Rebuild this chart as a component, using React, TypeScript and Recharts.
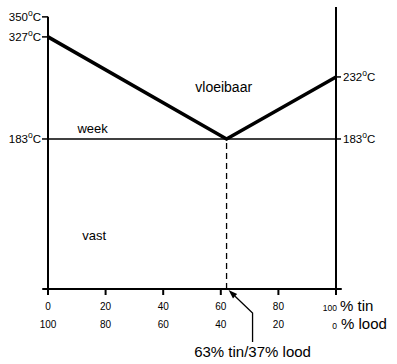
import React from 'react';
import { ComposedChart, Line, XAxis, YAxis, ReferenceLine, ReferenceDot } from 'recharts';

// ---- data ----
const tinTicks = [0, 20, 40, 60, 80, 100];
const leftTempTicks = [183, 327, 350];
const rightTempTicks = [183, 232];
const liquidusTin = [0, 62, 100];
const liquidusTemp = [327, 183, 232];
const eutecticTin = 62;
const eutecticTemp = 183;
const eutecticLabel = '63% tin/37% lood';
const regionNames = ['vloeibaar', 'week', 'vast'];
const regionTin = [61, 15.5, 16];
const regionTemp = [220, 188, 60];
// schematic (non-linear) temperature axis of the drawing
const scaleTemps = [0, 183, 232, 327, 350, 362];
const scaleFracs = [0, 0.532, 0.752, 0.894, 0.965, 1];

const FONT = '"Liberation Sans", Arial, Helvetica, sans-serif';

const liquidus = liquidusTin.map((tin, i) => ({ tin, temp: liquidusTemp[i] }));

function schematicScale(): any {
  let dom = [scaleTemps[0], scaleTemps[scaleTemps.length - 1]];
  let rng = [0, 1];
  const toFrac = (v: number) => {
    const n = scaleTemps.length;
    let i = 0;
    if (v <= scaleTemps[0]) i = 0;
    else if (v >= scaleTemps[n - 1]) i = n - 2;
    else {
      while (i < n - 2 && v > scaleTemps[i + 1]) i++;
    }
    const t0 = scaleTemps[i], t1 = scaleTemps[i + 1];
    const f0 = scaleFracs[i], f1 = scaleFracs[i + 1];
    return f0 + ((v - t0) / (t1 - t0)) * (f1 - f0);
  };
  const s: any = (v: number) => {
    const a = toFrac(Number(dom[0]));
    const b = toFrac(Number(dom[1]));
    const f = (toFrac(Number(v)) - a) / (b - a);
    return rng[0] + f * (rng[1] - rng[0]);
  };
  s.domain = (d?: any[]) => {
    if (d === undefined) return dom.slice();
    dom = [Number(d[0]), Number(d[d.length - 1])];
    return s;
  };
  s.range = (r?: any[]) => {
    if (r === undefined) return rng.slice();
    rng = [Number(r[0]), Number(r[r.length - 1])];
    return s;
  };
  s.ticks = () => scaleTemps.slice(1, -1);
  s.copy = () => schematicScale().domain(dom).range(rng);
  return s;
}

const tempScale = schematicScale();

const LeftTempTick = (props: any) => {
  const { x, y, payload } = props;
  return (
    <text x={x} y={y + 4} textAnchor="end" fontFamily={FONT} fontSize={11.5} fill="#000">
      <tspan>{payload.value}</tspan>
      <tspan dy={-4.5} fontSize={8.5}>o</tspan>
      <tspan dy={4.5}>C</tspan>
    </text>
  );
};

const RightTempTick = (props: any) => {
  const { x, y, payload } = props;
  return (
    <text x={x} y={y + 4} textAnchor="start" fontFamily={FONT} fontSize={11.5} fill="#000">
      <tspan>{payload.value}</tspan>
      <tspan dy={-4.5} fontSize={8.5}>o</tspan>
      <tspan dy={4.5}>C</tspan>
    </text>
  );
};

const TinTick = (props: any) => {
  const { x, y, payload } = props;
  const v = payload.value;
  if (v === 100) {
    return (
      <g fontFamily={FONT} fill="#000">
        <text x={x + 1} y={y + 14} textAnchor="end" fontSize={8.5}>{v}</text>
        <text x={x + 4} y={y + 14} textAnchor="start" fontSize={15}>% tin</text>
        <text x={x + 1} y={y + 32} textAnchor="end" fontSize={8.5}>{100 - v}</text>
        <text x={x + 5} y={y + 32} textAnchor="start" fontSize={15}>% lood</text>
      </g>
    );
  }
  return (
    <g fontFamily={FONT} fill="#000" fontSize={10}>
      <text x={x} y={y + 13} textAnchor="middle">{v}</text>
      <text x={x} y={y + 31} textAnchor="middle">{100 - v}</text>
    </g>
  );
};

const EutecticArrow = (props: any) => {
  const { cx, cy } = props;
  const tipX = cx + 2;
  const tipY = cy + 1;
  const kneeX = cx + 26;
  const kneeY = cy + 24;
  const dx = kneeX - tipX;
  const dy = kneeY - tipY;
  const len = Math.sqrt(dx * dx + dy * dy);
  const ux = dx / len;
  const uy = dy / len;
  const hl = 9;
  const hw = 3;
  const bx = tipX + ux * hl;
  const by = tipY + uy * hl;
  return (
    <g>
      <polygon
        points={`${tipX},${tipY} ${bx - uy * hw},${by + ux * hw} ${bx + uy * hw},${by - ux * hw}`}
        fill="#000"
      />
      <polyline
        points={`${bx},${by} ${kneeX},${kneeY} ${kneeX},${cy + 53}`}
        fill="none"
        stroke="#000"
        strokeWidth={1.3}
      />
      <text x={kneeX} y={cy + 68} textAnchor="middle" fontFamily={FONT} fontSize={15} fill="#000">
        {eutecticLabel}
      </text>
    </g>
  );
};

const RegionText = (name: string, size: number) => (props: any) => (
  <text x={props.cx} y={props.cy} textAnchor="middle" fontFamily={FONT} fontSize={size} fill="#000">
    {name}
  </text>
);

const regionSizes = [14, 13, 13];

export default function App() {
  return (
    <div style={{ position: 'absolute', left: 0, top: 0, background: '#fff' }}>
      <ComposedChart
        width={397}
        height={364}
        data={liquidus}
        margin={{ top: 7, right: 0, bottom: 0, left: 0 }}
      >
        <XAxis
          dataKey="tin"
          type="number"
          domain={[0, 100]}
          ticks={tinTicks}
          interval={0}
          height={75}
          axisLine={false}
          tickLine={{ stroke: '#000', strokeWidth: 2 }}
          tickSize={6}
          tick={<TinTick />}
        />
        <YAxis
          yAxisId="left"
          type="number"
          scale={tempScale}
          domain={[0, 362]}
          allowDataOverflow
          ticks={leftTempTicks}
          interval={0}
          width={48}
          axisLine={false}
          tickLine={{ stroke: '#000', strokeWidth: 1.5 }}
          tickSize={6}
          tickMargin={1}
          tick={<LeftTempTick />}
        />
        <YAxis
          yAxisId="right"
          orientation="right"
          type="number"
          scale={tempScale}
          domain={[0, 362]}
          allowDataOverflow
          ticks={rightTempTicks}
          interval={0}
          width={61}
          axisLine={{ stroke: '#000', strokeWidth: 2 }}
          tickLine={{ stroke: '#000', strokeWidth: 1.5 }}
          tickSize={5}
          tickMargin={2}
          tick={<RightTempTick />}
        />
        <ReferenceLine
          yAxisId="left"
          segment={[{ x: 0, y: 0 }, { x: 0, y: 350 }]}
          stroke="#000"
          strokeWidth={2}
          ifOverflow="visible"
        />
        <ReferenceLine
          yAxisId="left"
          segment={[{ x: -2, y: 0 }, { x: 102, y: 0 }]}
          stroke="#000"
          strokeWidth={2}
          ifOverflow="visible"
        />
        <ReferenceLine
          yAxisId="left"
          y={eutecticTemp}
          stroke="#000"
          strokeWidth={1.3}
        />
        <ReferenceLine
          yAxisId="left"
          segment={[{ x: eutecticTin, y: 0 }, { x: eutecticTin, y: eutecticTemp }]}
          stroke="#000"
          strokeWidth={1.3}
          strokeDasharray="6 4"
        />
        <Line
          yAxisId="left"
          dataKey="temp"
          stroke="#000"
          strokeWidth={3.5}
          dot={false}
          activeDot={false}
          isAnimationActive={false}
          type="linear"
        />
        {regionNames.map((name, i) => (
          <ReferenceDot
            key={name}
            yAxisId="left"
            x={regionTin[i]}
            y={regionTemp[i]}
            r={0}
            ifOverflow="visible"
            shape={RegionText(name, regionSizes[i])}
          />
        ))}
        <ReferenceDot
          yAxisId="left"
          x={eutecticTin}
          y={0}
          r={0}
          ifOverflow="visible"
          shape={EutecticArrow}
        />
      </ComposedChart>
    </div>
  );
}
